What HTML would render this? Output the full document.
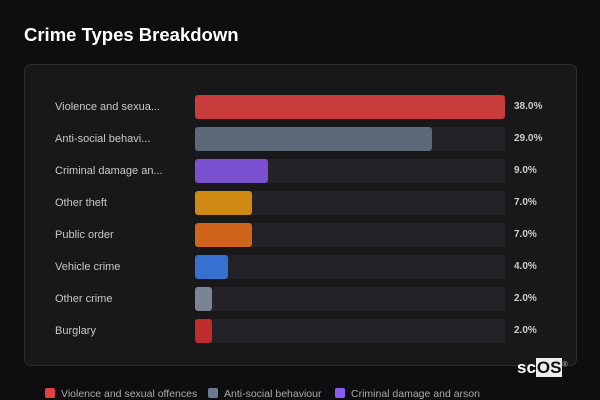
<!DOCTYPE html>
<html><head><style>
body{margin:0;width:600px;height:400px;background:#0e0e11;font-family:"Liberation Sans","DejaVu Sans",sans-serif;position:relative;overflow:hidden;color:#ddd}
h1{position:absolute;left:24px;top:24px;margin:0;font-size:18.5px;font-weight:bold;color:#fff}
.panel{position:absolute;left:24px;top:64px;width:551px;height:300px;background:#18181b;border:1px solid #2e2e33;border-radius:7px}
.row{position:absolute;left:0;width:600px;height:24px}
.lab{position:absolute;left:55px;top:6px;font-size:11px;color:#c8c8cc}
.trk{position:absolute;left:195px;top:0;width:310px;height:24px;background:#232327;border-radius:3px}
.bar{position:absolute;left:195px;top:0;height:24px;border-radius:3px}
.pct{position:absolute;left:514px;top:6px;font-size:10px;font-weight:bold;color:#ccc}
.leg{position:absolute;top:388px;font-size:10.5px;color:#aaa}
.leg i{display:inline-block;width:10px;height:10px;border-radius:2px;vertical-align:-1px;margin-right:6px}
.logo{position:absolute;left:517px;top:358px;font-size:17px;font-weight:bold;color:#fff}
.logo b{background:#eee;color:#111;padding:0 1px}
</style></head><body>
<h1>Crime Types Breakdown</h1>
<div class="panel"></div>
<div class="row" style="top:95px"><span class="lab">Violence and sexua...</span><div class="trk"></div><div class="bar" style="width:310px;background:#c83c3c"></div><span class="pct">38.0%</span></div>
<div class="row" style="top:127px"><span class="lab">Anti-social behavi...</span><div class="trk"></div><div class="bar" style="width:237px;background:#5d6878"></div><span class="pct">29.0%</span></div>
<div class="row" style="top:159px"><span class="lab">Criminal damage an...</span><div class="trk"></div><div class="bar" style="width:73px;background:#7a4fd0"></div><span class="pct">9.0%</span></div>
<div class="row" style="top:191px"><span class="lab">Other theft</span><div class="trk"></div><div class="bar" style="width:57px;background:#d08a14"></div><span class="pct">7.0%</span></div>
<div class="row" style="top:223px"><span class="lab">Public order</span><div class="trk"></div><div class="bar" style="width:57px;background:#d0641a"></div><span class="pct">7.0%</span></div>
<div class="row" style="top:255px"><span class="lab">Vehicle crime</span><div class="trk"></div><div class="bar" style="width:33px;background:#3670d0"></div><span class="pct">4.0%</span></div>
<div class="row" style="top:287px"><span class="lab">Other crime</span><div class="trk"></div><div class="bar" style="width:17px;background:#7a8494"></div><span class="pct">2.0%</span></div>
<div class="row" style="top:319px"><span class="lab">Burglary</span><div class="trk"></div><div class="bar" style="width:17px;background:#c02c2c"></div><span class="pct">2.0%</span></div>
<div class="logo">sc<b>OS</b><sup style="font-size:7px;color:#aaa">®</sup></div>
<div class="leg" style="left:45px"><i style="background:#e04444"></i>Violence and sexual offences</div>
<div class="leg" style="left:208px"><i style="background:#6a7890"></i>Anti-social behaviour</div>
<div class="leg" style="left:335px"><i style="background:#8a5cf0"></i>Criminal damage and arson</div>
</body></html>
